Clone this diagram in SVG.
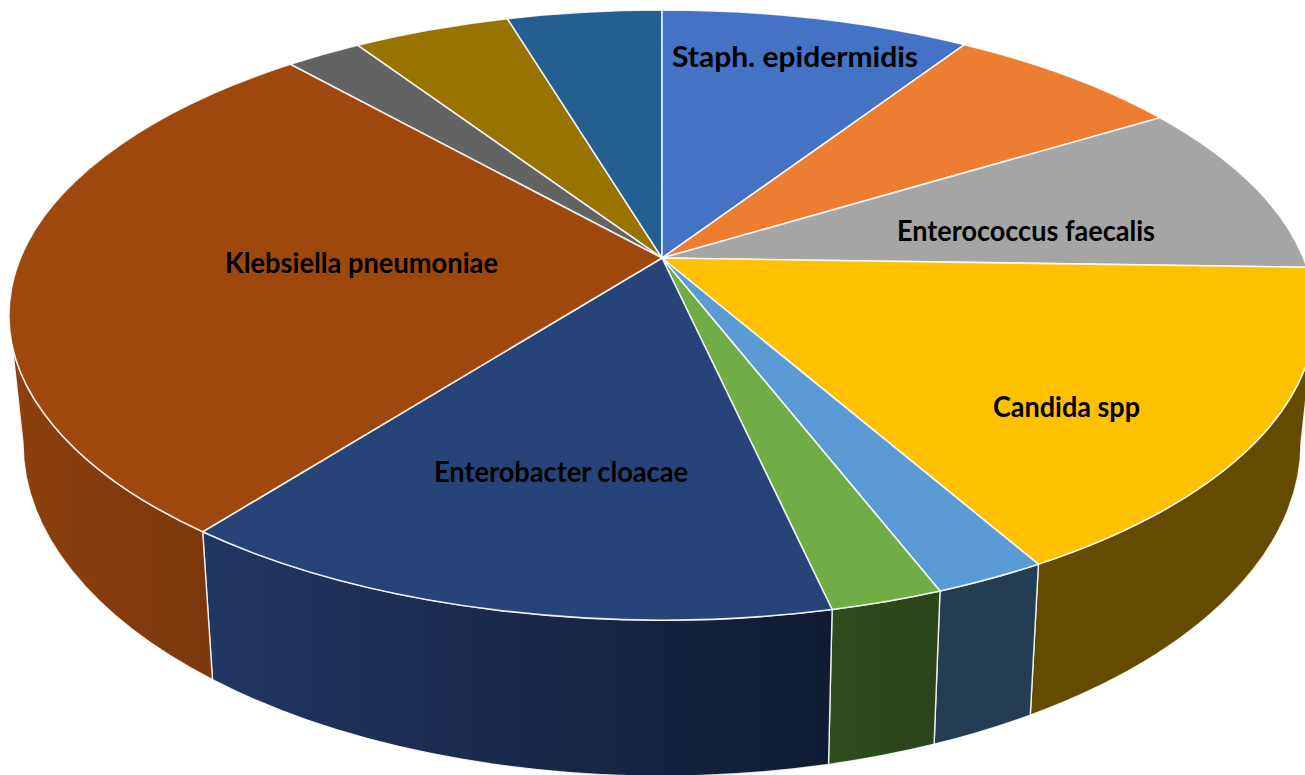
<svg xmlns="http://www.w3.org/2000/svg" width="1305" height="775" viewBox="0 0 1305 775">
  <defs>
    <style>
      .top { stroke: #ffffff; stroke-width: 1.6; stroke-opacity: 0.85; stroke-linejoin: round; }
      .side { stroke: #ffffff; stroke-width: 1.4; stroke-opacity: 0.85; stroke-linejoin: round; }
      .lbl { font-family: Lato, "Open Sans", "Liberation Sans", sans-serif; font-weight: 700; font-size: 28px; fill: #000000; }
    </style>
    <linearGradient id="gKleb" x1="0" y1="0" x2="1" y2="0">
      <stop offset="0" stop-color="#8d400d"/>
      <stop offset="1" stop-color="#7c370b"/>
    </linearGradient>
    <linearGradient id="gEntb" x1="0" y1="0" x2="1" y2="0">
      <stop offset="0" stop-color="#203763"/>
      <stop offset="1" stop-color="#101b33"/>
    </linearGradient>
    <linearGradient id="gGreen" x1="0" y1="0" x2="1" y2="0">
      <stop offset="0" stop-color="#2f4d1d"/>
      <stop offset="1" stop-color="#2a4419"/>
    </linearGradient>
  </defs>

  <rect x="0" y="0" width="1305" height="775" fill="#ffffff"/>

  <g id="slice-olive">
    <path class="top" fill="#997300" d="M662,258 L357.4,45.2 A653,305 0 0 1 507.4,18.7 Z"/>
  </g>
  <g id="slice-darkgray">
    <path class="top" fill="#636363" d="M662,258 L290.2,64.3 A653,305 0 0 1 357.4,45.2 Z"/>
  </g>
  <g id="slice-darkblue">
    <path class="top" fill="#255E91" d="M662,258 L507.4,18.7 A653,305 0 0 1 662,10 Z"/>
  </g>
  <g id="slice-staph">
    <path class="top" fill="#4472C4" d="M662,258 L662,10 A653,305 0 0 1 964.5,44.7 Z"/>
    <text class="lbl" x="672" y="67" textLength="246" lengthAdjust="spacingAndGlyphs">Staph. epidermidis</text>
  </g>
  <g id="slice-orange">
    <path class="top" fill="#ED7D31" d="M662,258 L964.5,44.7 A653,305 0 0 1 1160,117.7 Z"/>
  </g>
  <g id="slice-enterococcus">
    <path class="top" fill="#A5A5A5" d="M662,258 L1160,117.7 A653,305 0 0 1 1306.9,267.3 Z"/>
    <text class="lbl" x="897" y="241" textLength="258" lengthAdjust="spacingAndGlyphs">Enterococcus faecalis</text>
  </g>

  <g id="slice-candida">
    <path class="side" fill="#644b00" d="M1315,315 A653,305 0 0 1 1038.4,564.2 L1030.3,715.1 A639,333 0 0 0 1301,443 Z"/>
    <path class="top" fill="#FFC000" d="M662,258 L1306.9,267.3 A653,305 0 0 1 1038.4,564.2 Z"/>
    <text class="lbl" x="993" y="417" textLength="147" lengthAdjust="spacingAndGlyphs">Candida spp</text>
  </g>
  <g id="slice-lightblue">
    <path class="side" fill="#233d55" d="M1038.4,564.2 A653,305 0 0 1 940,591 L934.1,744.3 A639,333 0 0 0 1030.3,715.1 Z"/>
    <path class="top" fill="#5B9BD5" d="M662,258 L1038.4,564.2 A653,305 0 0 1 940,591 Z"/>
  </g>
  <g id="slice-green">
    <path class="side" fill="url(#gGreen)" d="M940,591 A653,305 0 0 1 832.1,609.5 L828.5,764.5 A639,333 0 0 0 934.1,744.3 Z"/>
    <path class="top" fill="#70AD47" d="M662,258 L940,591 A653,305 0 0 1 832.1,609.5 Z"/>
  </g>
  <g id="slice-enterobacter">
    <path class="side" fill="url(#gEntb)" d="M832.1,609.5 A653,305 0 0 1 202.7,531.8 L212.5,679.7 A639,333 0 0 0 828.5,764.5 Z"/>
    <path class="top" fill="#264478" d="M662,258 L832.1,609.5 A653,305 0 0 1 202.7,531.8 Z"/>
    <text class="lbl" x="434" y="482" textLength="254" lengthAdjust="spacingAndGlyphs">Enterobacter cloacae</text>
  </g>
  <g id="slice-klebsiella">
    <path class="side" fill="url(#gKleb)" d="M202.7,531.8 A653,305 0 0 1 9,315 L23,443 A639,333 0 0 0 212.5,679.7 Z"/>
    <path class="top" fill="#9E480E" d="M662,258 L202.7,531.8 A653,305 0 0 1 290.2,64.3 Z"/>
    <text class="lbl" x="225" y="273" textLength="273" lengthAdjust="spacingAndGlyphs">Klebsiella pneumoniae</text>
  </g>

  <g id="connectors"></g>
</svg>
